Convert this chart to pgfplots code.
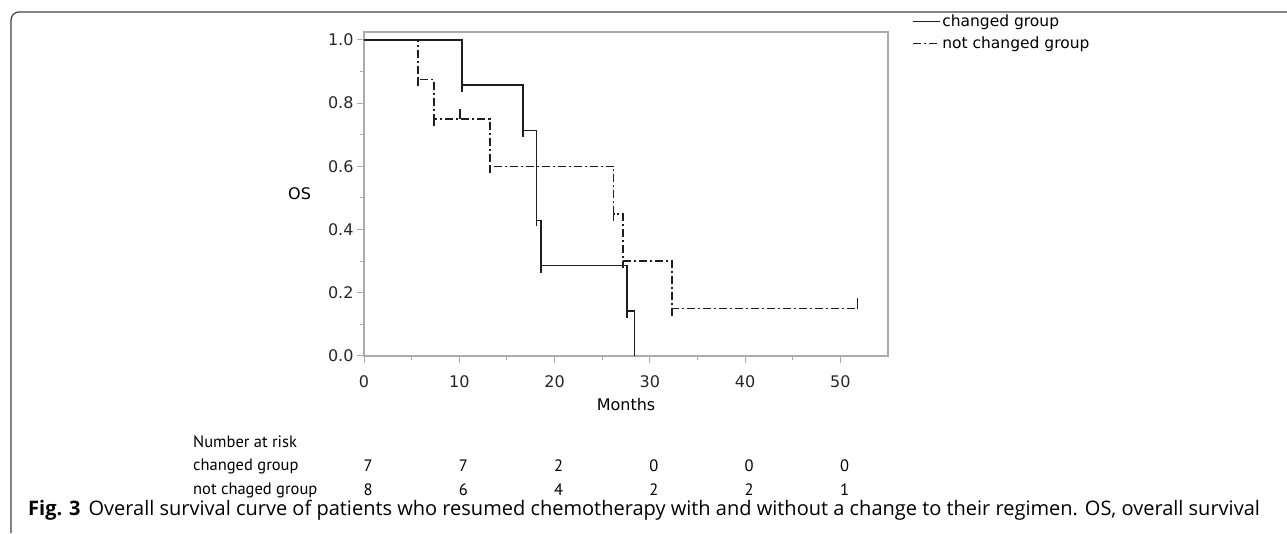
\documentclass[border=0pt]{standalone}
\usepackage{fontspec}
\setmainfont{DejaVu Sans}
\newfontfamily\tabfont{PT Sans}
\newfontfamily\capfont{Open Sans}
\usepackage{pgfplots}
\pgfplotsset{compat=1.18}

\definecolor{axgray}{HTML}{ABABAB}
\definecolor{curve}{HTML}{1E1E1E}

\begin{document}
\begin{tikzpicture}[x=1pt,y=1pt]
\useasboundingbox (0,0) rectangle (1287,533);
% frame of the figure
\draw[line width=1.2pt,color=black!75] (11,0) -- (11,513) arc[start angle=180,end angle=90,radius=8] -- (1287,521);

\begin{axis}[
    at={(364pt,177pt)}, anchor=south west,
    scale only axis,
    width=524pt, height=324pt,
    xmin=0, xmax=55, ymin=0, ymax=1.025,
    xtick={0,10,...,50}, minor xtick={5,15,...,45},
    ytick={0,0.2,...,1.0}, minor ytick={0.1,0.3,...,0.9},
    tick align=outside, tick pos=left,
    major tick length=7pt, minor tick length=4pt,
    axis line style={axgray, line width=1.3pt},
    every tick/.style={axgray, line width=1pt},
    yticklabel style={/pgf/number format/.cd, fixed, fixed zerofill, precision=1},
    xticklabel style={yshift=-9pt},
    /pgf/number format/assume math mode=true,
    tick label style={font=\fontsize{16}{18}\selectfont, text=black!85},
    xlabel={Months},
    xlabel style={font=\fontsize{16}{18}\selectfont, yshift=-4pt},
    unbounded coords=jump,
    legend style={at={(1.045,1.06)}, anchor=north west, draw=none, fill=none,
        font=\fontsize{15.5}{17}\selectfont, inner sep=0pt, row sep=5pt,
        /tikz/every even column/.append style={column sep=6pt}},
    legend cell align=left,
    legend image code/.code={\draw[#1] (0pt,0pt) -- (27pt,0pt);},
    clip=false,
]
% changed group
\addplot[curve, line width=1.5pt] coordinates {
    (0,1) (10.3,1) (10.3,0.857) (16.7,0.857) (16.7,0.714) (18.1,0.714)
    (18.1,0.429) (18.6,0.429) (18.6,0.286) (27.6,0.286) (27.6,0.143)
    (28.4,0.143) (28.4,0)
};
\addlegendentry{changed group}
% not changed group
\addplot[curve, line width=1.5pt, dash pattern=on 8pt off 3pt on 2pt off 3pt] coordinates {
    (0,1) (5.65,1) (5.65,0.875) (7.35,0.875) (7.35,0.75) (13.2,0.75)
    (13.2,0.6) (26.2,0.6) (26.2,0.45) (27.2,0.45) (27.2,0.3) (32.35,0.3)
    (32.35,0.15) (51.8,0.15)
};
\addlegendentry{not changed group}
% step marks, changed group
\addplot[curve, line width=1.5pt, forget plot] coordinates {
    (10.3,0.857) (10.3,0.835) (nan,nan)
    (16.7,0.714) (16.7,0.692) (nan,nan)
    (18.1,0.429) (18.1,0.410) (nan,nan)
    (18.6,0.286) (18.6,0.264) (nan,nan)
    (27.6,0.143) (27.6,0.121)
};
% step and censor marks, not changed group
\addplot[curve, line width=1.5pt, forget plot] coordinates {
    (5.65,0.875) (5.65,0.853) (nan,nan)
    (7.35,0.75) (7.35,0.728) (nan,nan)
    (10.1,0.75) (10.1,0.78) (nan,nan)
    (13.2,0.6) (13.2,0.578) (nan,nan)
    (26.2,0.45) (26.2,0.428) (nan,nan)
    (27.2,0.3) (27.2,0.278) (nan,nan)
    (32.35,0.15) (32.35,0.128) (nan,nan)
    (51.8,0.15) (51.8,0.185)
};
\node[font=\fontsize{16}{18}\selectfont] at (rel axis cs:-0.123,0.5) {OS};
\end{axis}

% number at risk table
\begin{scope}[every node/.style={font=\tabfont\fontsize{16.5}{18}\selectfont, inner sep=0pt}]
\node[anchor=west] at (193,91) {Number at risk};
\node[anchor=west] at (193,67) {changed group};
\node[anchor=west] at (193,43) {not chaged group};
\foreach \n [count=\i from 0] in {7,7,2,0,0,0}
    \node at (368+95.3*\i,67) {\n};
\foreach \n [count=\i from 0] in {8,6,4,2,2,1}
    \node at (368+95.3*\i,43) {\n};
\end{scope}

% caption
\node[anchor=west, inner sep=0pt, font=\capfont\fontsize{20}{22}\selectfont] at (28,23)
    {{\bfseries Fig. 3}\hspace{8pt}Overall survival curve of patients who resumed chemotherapy with and without a change to their regimen. OS, overall survival};
\end{tikzpicture}
\end{document}
